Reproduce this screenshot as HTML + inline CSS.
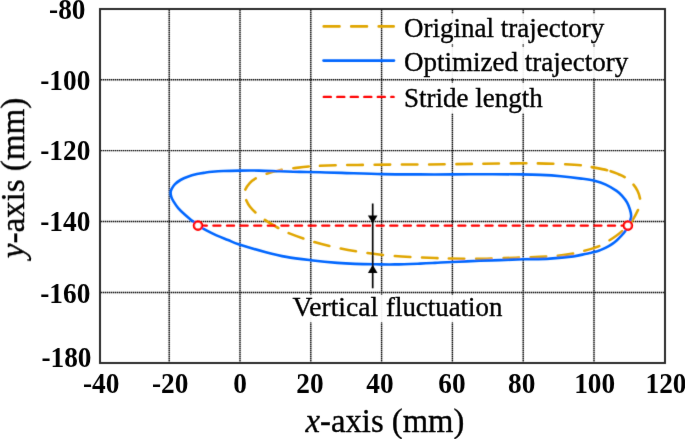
<!DOCTYPE html>
<html><head><meta charset="utf-8"><style>
html,body{margin:0;padding:0;background:#fff;}
svg{display:block;}
text{font-family:"Liberation Serif",serif;}
.tk{font-weight:bold;font-size:27.3px;fill:#000;}
.lg{font-size:27px;fill:#000;stroke:#000;stroke-width:0.35px;}
.ax{font-size:33px;fill:#000;stroke:#000;stroke-width:0.35px;}
</style></head><body>
<svg width="685" height="439" viewBox="0 0 685 439">
<defs><filter id="bl" x="0" y="0" width="685" height="439" filterUnits="userSpaceOnUse"><feConvolveMatrix order="3" kernelMatrix="0.0183 0.1353 0.0183 0.1353 1.0000 0.1353 0.0183 0.1353 0.0183" edgeMode="none"/></filter>
<filter id="bt" x="0" y="0" width="685" height="439" filterUnits="userSpaceOnUse"><feConvolveMatrix order="3" kernelMatrix="0.0019 0.0439 0.0019 0.0439 1.0000 0.0439 0.0019 0.0439 0.0019" edgeMode="none"/></filter></defs>
<rect width="685" height="439" fill="#fff"/>
<g filter="url(#bl)">
<g stroke="#000" stroke-width="1.4" stroke-dasharray="1.4 0.6" fill="none">
<line x1="169.20" y1="10" x2="169.20" y2="362" />
<line x1="240.00" y1="10" x2="240.00" y2="362" />
<line x1="310.80" y1="10" x2="310.80" y2="362" />
<line x1="381.60" y1="10" x2="381.60" y2="362" />
<line x1="452.40" y1="10" x2="452.40" y2="362" />
<line x1="523.20" y1="10" x2="523.20" y2="362" />
<line x1="594.00" y1="10" x2="594.00" y2="362" />
<line x1="101" y1="79.75" x2="664" y2="79.75" />
<line x1="101" y1="150.65" x2="664" y2="150.65" />
<line x1="101" y1="221.55" x2="664" y2="221.55" />
<line x1="101" y1="292.45" x2="664" y2="292.45" />
</g>
<g fill="#fff" fill-opacity="0.93">
<rect x="401" y="14" width="206" height="30"/>
<rect x="401" y="47" width="230" height="31"/>
<rect x="401" y="83" width="145" height="30"/>
<rect x="290" y="295" width="214" height="27"/>
</g>
<path d="M244.70,195.00 C244.55,193.27 244.50,191.65 245.30,189.70 C246.10,187.75 247.73,185.20 249.50,183.30 C251.27,181.40 253.12,179.88 255.90,178.30 C258.68,176.72 261.83,175.23 266.20,173.80 C270.57,172.37 277.75,170.60 282.10,169.70 C286.45,168.80 287.63,168.95 292.30,168.40 C296.97,167.85 302.82,166.93 310.10,166.40 C317.38,165.87 327.15,165.45 336.00,165.20 C344.85,164.95 354.07,165.00 363.20,164.90 C372.33,164.80 381.53,164.67 390.80,164.60 C400.07,164.53 409.60,164.55 418.80,164.50 C428.00,164.45 437.00,164.40 446.00,164.30 C455.00,164.20 463.92,164.03 472.80,163.90 C481.68,163.77 490.27,163.60 499.30,163.50 C508.33,163.40 517.93,163.25 527.00,163.30 C536.07,163.35 544.65,163.47 553.70,163.80 C562.75,164.13 575.05,164.77 581.30,165.30 C587.55,165.83 586.68,166.13 591.20,167.00 C595.72,167.87 603.85,169.30 608.40,170.50 C612.95,171.70 615.62,172.98 618.50,174.20 C621.38,175.42 623.28,176.15 625.70,177.80 C628.12,179.45 631.02,181.90 633.00,184.10 C634.98,186.30 636.42,188.52 637.60,191.00 C638.78,193.48 639.77,196.75 640.10,199.00 C640.43,201.25 639.95,202.67 639.60,204.50 C639.25,206.33 639.20,207.37 638.00,210.00 C636.80,212.63 634.03,217.72 632.40,220.30 C630.77,222.88 629.80,223.78 628.20,225.50 C626.60,227.22 624.83,228.85 622.80,230.60 C620.77,232.35 618.30,234.33 616.00,236.00 C613.70,237.67 611.67,238.97 609.00,240.60 C606.33,242.23 604.18,244.07 600.00,245.80 C595.82,247.53 588.25,249.72 583.90,251.00 C579.55,252.28 578.35,252.70 573.90,253.50 C569.45,254.30 564.57,255.17 557.20,255.80 C549.83,256.43 538.80,256.92 529.70,257.30 C520.60,257.68 511.70,257.85 502.60,258.10 C493.50,258.35 484.20,258.73 475.10,258.80 C466.00,258.87 456.98,258.73 448.00,258.50 C439.02,258.27 430.18,257.82 421.20,257.40 C412.22,256.98 403.18,256.75 394.10,256.00 C385.02,255.25 375.70,254.17 366.70,252.90 C357.70,251.63 348.95,250.23 340.10,248.40 C331.25,246.57 322.25,244.48 313.60,241.90 C304.95,239.32 294.00,235.17 288.20,232.90 C282.40,230.63 282.73,230.48 278.80,228.30 C274.87,226.12 268.42,222.37 264.60,219.80 C260.78,217.23 258.33,215.07 255.90,212.90 C253.47,210.73 251.62,208.93 250.00,206.80 C248.38,204.67 247.08,202.07 246.20,200.10 C245.32,198.13 244.85,196.73 244.70,195.00 Z" fill="none" stroke="#E0A600" stroke-width="2.6" stroke-dasharray="15.50 11.90 15.50 11.96 15.50 11.22 15.50 11.72 15.50 11.84 15.50 11.70 15.50 11.69 15.50 11.82 15.50 11.53 15.50 11.97 15.50 11.44 15.50 11.94 15.50 11.26 15.50 3.55 15.50 11.54 15.50 11.81 15.50 11.26 15.50 11.91 15.50 11.71 15.50 11.55 15.50 11.63 15.50 11.97 15.50 11.80 15.50 11.33 15.50 11.72 15.50 11.95 15.50 11.66 15.50 11.67 15.50 11.62 15.50 11.83 15.50 12.00 15.50 11.27" stroke-dashoffset="856.21" stroke-linecap="round"/>
<path d="M170.60,192.30 C170.68,190.93 171.07,190.07 171.80,188.70 C172.53,187.33 173.55,185.55 175.00,184.10 C176.45,182.65 178.37,181.23 180.50,180.00 C182.63,178.77 185.07,177.68 187.80,176.70 C190.53,175.72 194.03,174.77 196.90,174.10 C199.77,173.43 202.48,173.08 205.00,172.70 C207.52,172.32 208.93,172.08 212.00,171.80 C215.07,171.52 218.73,171.20 223.40,171.00 C228.07,170.80 234.07,170.67 240.00,170.60 C245.93,170.53 252.33,170.48 259.00,170.60 C265.67,170.72 273.17,171.08 280.00,171.30 C286.83,171.52 293.33,171.73 300.00,171.90 C306.67,172.07 313.05,172.13 320.00,172.30 C326.95,172.47 331.27,172.60 341.70,172.90 C352.13,173.20 369.55,173.85 382.60,174.10 C395.65,174.35 408.55,174.35 420.00,174.40 C431.45,174.45 439.27,174.43 451.30,174.40 C463.33,174.37 480.75,174.20 492.20,174.20 C503.65,174.20 511.97,174.28 520.00,174.40 C528.03,174.52 533.58,174.60 540.40,174.90 C547.22,175.20 554.08,175.58 560.90,176.20 C567.72,176.82 575.70,177.83 581.30,178.60 C586.90,179.37 590.42,179.80 594.50,180.80 C598.58,181.80 602.12,182.92 605.80,184.60 C609.48,186.28 613.85,188.98 616.60,190.90 C619.35,192.82 620.57,194.20 622.30,196.10 C624.03,198.00 625.73,200.08 627.00,202.30 C628.27,204.52 629.20,207.12 629.90,209.40 C630.60,211.68 631.22,213.97 631.20,216.00 C631.18,218.03 630.33,219.88 629.80,221.60 C629.27,223.32 628.72,224.78 628.00,226.30 C627.28,227.82 626.60,229.13 625.50,230.70 C624.40,232.27 622.83,234.12 621.40,235.70 C619.97,237.28 618.42,238.83 616.90,240.20 C615.38,241.57 613.82,242.83 612.30,243.90 C610.78,244.97 609.32,245.77 607.80,246.60 C606.28,247.43 604.72,248.22 603.20,248.90 C601.68,249.58 600.22,250.17 598.70,250.70 C597.18,251.23 595.62,251.70 594.10,252.10 C592.58,252.50 591.12,252.78 589.60,253.10 C588.08,253.42 587.70,253.45 585.00,254.00 C582.30,254.55 579.23,255.63 573.40,256.40 C567.57,257.17 558.45,258.12 550.00,258.60 C541.55,259.08 531.03,259.05 522.70,259.30 C514.37,259.55 507.12,259.85 500.00,260.10 C492.88,260.35 488.08,260.48 480.00,260.80 C471.92,261.12 459.00,261.65 451.50,262.00 C444.00,262.35 440.25,262.63 435.00,262.90 C429.75,263.17 426.67,263.35 420.00,263.60 C413.33,263.85 402.43,264.28 395.00,264.40 C387.57,264.52 382.07,264.38 375.40,264.30 C368.73,264.22 361.33,264.13 355.00,263.90 C348.67,263.67 344.77,263.52 337.40,262.90 C330.03,262.28 319.32,261.20 310.80,260.20 C302.28,259.20 293.78,258.23 286.30,256.90 C278.82,255.57 273.73,254.27 265.90,252.20 C258.07,250.13 245.62,246.53 239.30,244.50 C232.98,242.47 231.80,241.52 228.00,240.00 C224.20,238.48 220.02,236.95 216.50,235.40 C212.98,233.85 209.87,232.30 206.90,230.70 C203.93,229.10 201.20,227.50 198.70,225.80 C196.20,224.10 194.18,222.33 191.90,220.50 C189.62,218.67 187.28,216.87 185.00,214.80 C182.72,212.73 180.12,210.33 178.20,208.10 C176.28,205.87 174.65,203.27 173.50,201.40 C172.35,199.53 171.78,198.42 171.30,196.90 C170.82,195.38 170.52,193.67 170.60,192.30 Z" fill="none" stroke="#0066FF" stroke-width="2.6"/>
<line x1="199.8" y1="225.6" x2="627.8" y2="225.6" stroke="#FF0000" stroke-width="2.4" stroke-dasharray="7 6.607" stroke-linecap="round"/>
<circle cx="198" cy="225.6" r="4.08" fill="#fff" stroke="#FF0000" stroke-width="2.4"/>
<circle cx="627.9" cy="225.6" r="4.08" fill="#fff" stroke="#FF0000" stroke-width="2.4"/>
<line x1="372.7" y1="203.5" x2="372.7" y2="288.3" stroke="#000" stroke-width="1.7"/>
<polygon points="367.9,215.6 377.5,215.6 372.7,223.6" fill="#000"/>
<polygon points="367.9,273 377.5,273 372.7,264.8" fill="#000"/>
<rect x="100" y="9" width="565" height="354" fill="none" stroke="#2b2b2b" stroke-width="2"/>
<line x1="323.7" y1="26.4" x2="393.7" y2="26.4" stroke="#E0A600" stroke-width="2.6" stroke-dasharray="15.8 11.7" stroke-linecap="round"/>
<line x1="323.5" y1="60.6" x2="394" y2="60.6" stroke="#0066FF" stroke-width="2.6" stroke-linecap="round"/>
<line x1="323.8" y1="96.9" x2="393.6" y2="96.9" stroke="#FF0000" stroke-width="2.4" stroke-dasharray="7 6.5" stroke-linecap="round"/>
</g>
<g filter="url(#bt)">
<text class="lg" x="404" y="36.6">Original trajectory</text>
<text class="lg" x="404" y="71">Optimized trajectory</text>
<text class="lg" x="404" y="106.9">Stride length</text>
<text class="lg" transform="translate(292.5,315.8) scale(1.019,1)">Vertical</text>
<text class="lg" transform="translate(386,315.8) scale(0.995,1)">fluctuation</text>
<g class="tk">
<text transform="translate(85.50,18.60) scale(1,1.060)" text-anchor="end">-80</text>
<text transform="translate(90.30,89.90) scale(1,1.060)" text-anchor="end">-100</text>
<text transform="translate(90.30,160.30) scale(1,1.060)" text-anchor="end">-120</text>
<text transform="translate(90.30,231.00) scale(1,1.060)" text-anchor="end">-140</text>
<text transform="translate(90.30,302.70) scale(1,1.060)" text-anchor="end">-160</text>
<text transform="translate(91.50,367.00) scale(1,1.060)" text-anchor="end">-180</text>
<text transform="translate(101.20,392.60) scale(1,1.060)" text-anchor="middle">-40</text>
<text transform="translate(170.20,392.60) scale(1,1.060)" text-anchor="middle">-20</text>
<text transform="translate(240.00,392.60) scale(1,1.060)" text-anchor="middle">0</text>
<text transform="translate(310.00,392.60) scale(1,1.060)" text-anchor="middle">20</text>
<text transform="translate(380.00,392.60) scale(1,1.060)" text-anchor="middle">40</text>
<text transform="translate(452.00,392.60) scale(1,1.060)" text-anchor="middle">60</text>
<text transform="translate(521.70,392.60) scale(1,1.060)" text-anchor="middle">80</text>
<text transform="translate(594.60,392.60) scale(1,1.060)" text-anchor="middle">100</text>
<text transform="translate(666.00,392.60) scale(1,1.060)" text-anchor="middle">120</text>
</g>
<text class="ax" transform="translate(305.6,432) scale(0.99,1)"><tspan font-style="italic">x</tspan>-axis (mm)</text>
<text class="ax" transform="translate(24,258.2) rotate(-90)"><tspan font-style="italic">y</tspan>-axis (mm)</text>
</g>
</svg>
</body></html>
